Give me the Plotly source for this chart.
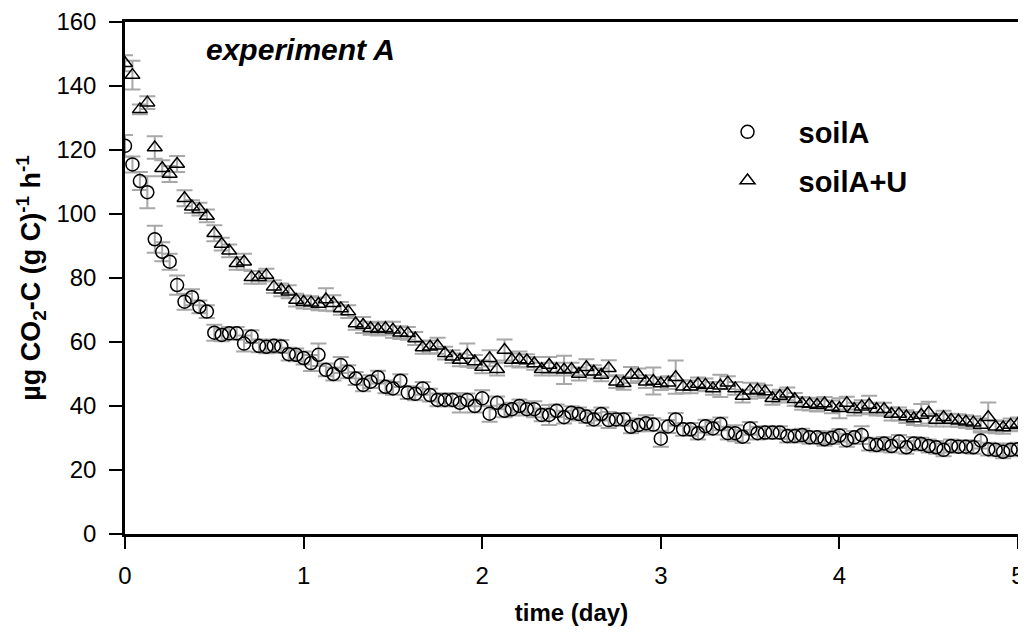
import plotly.graph_objects as go

# sampling times (hourly)
hours = list(range(121))
days = [h / 24 for h in hours]

soilA = [121.3, 115.5, 110.3, 106.8, 92.1, 88.2, 85.1, 77.8, 72.6, 74.0,
         71.0, 69.5, 62.9, 62.2, 62.7, 62.7, 59.5, 61.7, 58.8, 58.5,
         58.8, 58.6, 56.2, 56.0, 55.0, 53.4, 56.0, 51.3, 50.0, 52.8,
         50.7, 48.6, 46.6, 47.6, 49.0, 46.0, 45.5, 47.9, 44.2, 43.8,
         45.5, 43.4, 41.9, 41.9, 41.9, 41.0, 41.9, 40.0, 42.4, 37.6,
         41.0, 38.5, 39.0, 40.0, 39.0, 39.0, 37.2, 37.2, 38.5, 36.5,
         37.9, 37.5, 36.7, 35.8, 37.5, 35.6, 35.8, 35.8, 33.5, 34.1,
         34.6, 34.2, 29.8, 33.6, 35.8, 32.7, 32.7, 31.5, 33.7, 33.0,
         34.4, 31.5, 31.5, 30.4, 33.0, 31.5, 31.7, 31.7, 31.7, 30.6,
         30.6, 30.9, 30.2, 30.2, 29.6, 30.1, 30.8, 29.3, 30.2, 30.9,
         28.1, 27.8, 28.3, 27.5, 28.9, 27.1, 28.3, 28.1, 27.5, 27.1,
         26.3, 27.5, 27.3, 27.3, 27.1, 29.2, 26.5, 26.3, 25.7, 26.3,
         26.5]
soilA_err = [3.4, 2.5, 2.8, 5.0, 4.2, 3.0, 2.5, 3.0, 2.5, 2.5,
             2.0, 2.0, 2.5, 2.0, 2.0, 2.0, 2.5, 2.0, 2.0, 2.0,
             2.0, 2.0, 2.0, 2.0, 2.0, 2.5, 3.5, 2.0, 2.0, 2.5,
             2.0, 2.0, 2.0, 2.0, 2.0, 2.0, 2.0, 2.0, 2.0, 2.0,
             2.0, 2.0, 2.0, 2.0, 2.0, 3.0, 2.0, 2.0, 2.5, 2.5,
             2.0, 2.0, 2.0, 2.0, 2.0, 2.5, 2.0, 3.1, 2.0, 2.0,
             2.0, 2.0, 2.0, 2.0, 2.0, 2.5, 2.0, 2.0, 2.0, 2.0,
             2.5, 2.0, 2.5, 2.0, 2.0, 2.0, 2.0, 2.0, 2.0, 2.0,
             2.0, 2.0, 2.5, 2.0, 2.0, 2.0, 2.0, 2.0, 2.0, 2.0,
             2.0, 2.0, 2.0, 2.0, 2.0, 2.0, 2.0, 2.0, 2.0, 2.8,
             2.0, 2.0, 2.0, 2.0, 2.0, 2.0, 2.0, 2.0, 2.0, 2.0,
             2.0, 2.0, 2.0, 2.0, 2.0, 2.5, 2.0, 2.0, 2.0, 2.0,
             2.0]

soilAU = [147.1, 143.4, 132.7, 134.8, 120.8, 114.3, 112.5, 115.6, 104.9, 102.3,
          101.5, 99.4, 94.0, 90.6, 88.5, 84.6, 85.1, 80.2, 80.2, 80.9,
          77.3, 76.3, 75.7, 73.1, 72.5, 72.3, 71.9, 73.3, 72.1, 70.5,
          69.5, 65.8, 65.3, 64.3, 64.0, 64.3, 63.8, 62.9, 62.7, 61.1,
          58.3, 58.5, 58.8, 56.5, 55.4, 54.4, 55.9, 53.9, 52.2, 54.9,
          51.5, 57.5, 54.4, 54.5, 54.2, 53.3, 51.5, 52.8, 51.5, 51.3,
          51.5, 50.0, 52.1, 50.7, 49.7, 51.8, 47.6, 47.1, 49.7, 49.7,
          47.6, 47.8, 47.0, 47.3, 49.0, 46.0, 46.0, 46.9, 46.6, 45.5,
          46.3, 47.3, 45.5, 43.1, 44.8, 45.0, 44.5, 42.4, 43.1, 43.8,
          42.1, 40.8, 40.6, 40.3, 40.8, 39.7, 39.3, 40.9, 39.0, 39.8,
          40.3, 39.0, 39.0, 37.5, 37.5, 36.7, 36.1, 37.2, 37.9, 35.6,
          36.5, 35.6, 35.4, 35.1, 34.8, 34.1, 36.5, 33.5, 33.3, 34.1,
          34.4]
soilAU_err = [2.5, 4.5, 1.5, 2.0, 3.5, 2.5, 2.5, 2.5, 2.5, 2.0,
              2.0, 2.0, 2.5, 2.0, 2.0, 2.0, 2.5, 2.0, 2.0, 2.0,
              2.0, 2.0, 2.0, 2.0, 2.0, 2.0, 2.0, 3.5, 2.5, 2.0,
              2.0, 2.0, 2.5, 2.0, 2.0, 2.0, 2.5, 2.0, 2.0, 2.0,
              2.0, 2.0, 2.5, 2.0, 2.0, 2.0, 3.6, 2.0, 2.0, 2.5,
              2.0, 3.3, 2.0, 2.5, 2.0, 2.0, 2.0, 2.5, 2.0, 4.4,
              2.0, 2.0, 2.5, 2.0, 2.0, 2.5, 2.0, 2.0, 2.5, 2.0,
              2.0, 4.2, 2.0, 2.0, 5.2, 2.0, 2.0, 2.0, 2.0, 2.0,
              3.5, 2.0, 2.0, 2.0, 2.5, 2.0, 2.0, 2.0, 2.0, 2.0,
              2.0, 2.0, 2.0, 2.0, 2.0, 2.0, 3.1, 2.0, 2.0, 2.0,
              2.9, 2.0, 2.0, 2.0, 2.0, 2.0, 2.0, 3.4, 3.4, 2.0,
              2.0, 2.0, 2.0, 2.0, 2.0, 2.0, 4.6, 2.0, 2.0, 2.0,
              2.0]

FONT = 'Liberation Sans, Arial, sans-serif'
err_style = dict(type='data', thickness=2, width=8, color='#a8a8a8')

fig = go.Figure()
fig.add_trace(go.Scatter(
    x=days, y=soilA, mode='markers', name='<b>soilA</b>', legendgroup='a',
    error_y=dict(array=soilA_err, **err_style),
    marker=dict(symbol='circle-open', size=13, color='black', line=dict(width=1.5, color='black'))
))
fig.add_trace(go.Scatter(
    x=days, y=soilAU, mode='markers', name='<b>soilA+U</b>', legendgroup='b',
    error_y=dict(array=soilAU_err, **err_style),
    marker=dict(symbol='triangle-up-open', size=13, color='black', line=dict(width=1.5, color='black'))
))

fig.add_annotation(
    x=0.088, y=0.982, xref='paper', yref='paper', xanchor='left', yanchor='top',
    text='<b><i>experiment A</i></b>', showarrow=False,
    font=dict(family=FONT, size=30, color='black')
)

# page body has an 8px margin, so the figure is sized/offset to land the
# plot box at the reference position
fig.update_layout(
    width=1018, height=624,
    paper_bgcolor='white', plot_bgcolor='white',
    margin=dict(l=117, r=8, t=14, b=98, autoexpand=False),
    font=dict(family=FONT, size=24, color='black'),
    showlegend=True,
    legend=dict(
        x=0.64, y=0.835, xanchor='left', yanchor='top',
        bgcolor='rgba(0,0,0,0)', traceorder='grouped', tracegroupgap=8,
        font=dict(family=FONT, size=29, color='black'),
        itemwidth=92
    ),
    xaxis=dict(
        range=[0, 5], tickvals=[0, 1, 2, 3, 4, 5],
        showgrid=False, zeroline=False, automargin=False,
        showline=True, linecolor='black', linewidth=2.5, mirror=True,
        ticks='outside', ticklen=12, tickwidth=2, tickcolor='black',
        ticklabelstandoff=6,
        title=dict(text='<b>time (day)</b>', font=dict(size=24), standoff=17)
    ),
    yaxis=dict(
        range=[0, 160], tickvals=[0, 20, 40, 60, 80, 100, 120, 140, 160],
        showgrid=False, zeroline=False, automargin=False,
        showline=True, linecolor='black', linewidth=2.5, mirror=True,
        ticks='outside', ticklen=13, tickwidth=2, tickcolor='black',
        ticklabelstandoff=8,
        title=dict(text='<b>µg CO<sub>2</sub>-C (g C)<sup>-1</sup> h<sup>-1</sup></b>',
                   font=dict(size=27), standoff=8)
    )
)

fig.write_html('out.html')
